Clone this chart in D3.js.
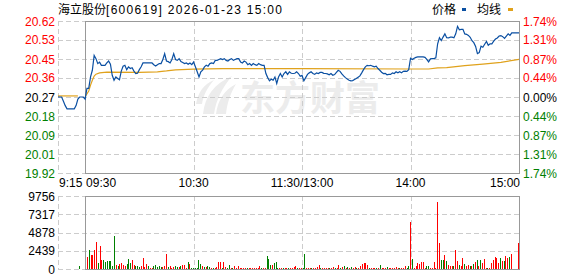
<!DOCTYPE html>
<html>
<head>
<meta charset="utf-8">
<script src="https://cdn.jsdelivr.net/npm/d3@7"></script>
<style>
  body { margin: 0; background: #fff; }
  text { font-family: "Liberation Sans", Arial, sans-serif; font-size: 12px; }
  .cjk { font-family: "Noto Sans CJK SC", sans-serif; }
</style>
</head>
<body>
<svg id="chart" width="578" height="276"></svg>
<script>
const prevClose = 20.27;
const maxPct = 1.74;
const priceLabels = ['20.62', '20.53', '20.45', '20.36', '20.27', '20.18', '20.09', '20.01', '19.92'];
const pctLevels = [1.74, 1.31, 0.87, 0.44, 0, -0.44, -0.87, -1.31, -1.74];
const pctLabels = ['1.74%', '1.31%', '0.87%', '0.44%', '0.00%', '0.44%', '0.87%', '1.31%', '1.74%'];
const timeLabels = ['9:15', '09:30', '10:30', '11:30/13:00', '14:00', '15:00'];
const timeMinutes = [0, 15, 75, 135, 195, 255];
const volTicks = [0, 2439, 4878, 7317, 9756];

// 9:15 - 9:29 call auction
const prePrices = [20.27, 20.27, 20.27, 20.25, 20.23, 20.215, 20.215, 20.215, 20.215, 20.215,
  20.23, 20.26, 20.27, 20.27, 20.27];
const avgPreMinutes = [0, 11];
const avgPreValues = [20.275, 20.275];

// one price per minute, 09:30 .. 11:30 then 13:01 .. 15:00
const prices = [
  20.26, 20.31, 20.31, 20.363, 20.394, 20.463, 20.448, 20.425, 20.432, 20.417,
  20.417, 20.417, 20.428, 20.437, 20.422, 20.371, 20.348, 20.363, 20.356, 20.35,
  20.39, 20.413, 20.417, 20.397, 20.41, 20.402, 20.406, 20.39, 20.379, 20.38,
  20.397, 20.41, 20.428, 20.428, 20.428, 20.428, 20.428, 20.428, 20.42, 20.414,
  20.42, 20.425, 20.425, 20.444, 20.471, 20.437, 20.434, 20.428, 20.444, 20.471,
  20.444, 20.44, 20.448, 20.434, 20.43, 20.425, 20.428, 20.422, 20.428, 20.42,
  20.432, 20.41, 20.387, 20.363, 20.387, 20.395, 20.41, 20.417, 20.413, 20.425,
  20.428, 20.425, 20.44, 20.44, 20.444, 20.448, 20.444, 20.448, 20.44, 20.437,
  20.444, 20.448, 20.44, 20.444, 20.448, 20.448, 20.432, 20.428, 20.437, 20.432,
  20.42, 20.425, 20.417, 20.425, 20.42, 20.417, 20.425, 20.42, 20.417, 20.417,
  20.379, 20.36, 20.345, 20.353, 20.348, 20.363, 20.333, 20.363, 20.379, 20.363,
  20.379, 20.387, 20.375, 20.387, 20.38, 20.379, 20.38, 20.387, 20.379, 20.366,
  20.37, 20.345, 20.36, 20.375, 20.382, 20.387, 20.379, 20.375, 20.382, 20.379,
  20.384, 20.384, 20.38, 20.379, 20.377, 20.373, 20.379, 20.371, 20.374, 20.384,
  20.394, 20.389, 20.377, 20.368, 20.36, 20.353, 20.348, 20.345, 20.346, 20.351,
  20.356, 20.362, 20.368, 20.382, 20.397, 20.41, 20.417, 20.415, 20.417, 20.413,
  20.41, 20.413, 20.402, 20.394, 20.385, 20.379, 20.38, 20.373, 20.375, 20.375,
  20.382, 20.379, 20.387, 20.382, 20.387, 20.382, 20.389, 20.39, 20.389, 20.397,
  20.45, 20.444, 20.45, 20.454, 20.456, 20.456, 20.456, 20.456, 20.454, 20.445,
  20.433, 20.447, 20.448, 20.448, 20.452, 20.517, 20.545, 20.532, 20.548, 20.563,
  20.545, 20.544, 20.548, 20.548, 20.545, 20.563, 20.598, 20.582, 20.584, 20.584,
  20.563, 20.561, 20.556, 20.547, 20.531, 20.522, 20.505, 20.471, 20.476, 20.506,
  20.501, 20.515, 20.528, 20.51, 20.517, 20.517, 20.529, 20.539, 20.544, 20.553,
  20.555, 20.55, 20.542, 20.553, 20.563, 20.556, 20.568, 20.568, 20.568, 20.568,
  20.568
];

// average price line, read at its turning points (minutes after 09:30)
const avgMinutes = [0, 2, 3, 4, 5, 6, 8, 12, 30, 40, 45, 50, 60, 76, 120, 180, 190, 195, 200, 210, 220, 230, 240];
const avgValues = [20.271, 20.298, 20.325, 20.348, 20.367, 20.376, 20.382, 20.385, 20.384, 20.387,
  20.391, 20.396, 20.399, 20.402, 20.402, 20.40, 20.40, 20.405, 20.406, 20.416, 20.423, 20.431, 20.445];

const preVolume = 440;
const preVolMinute = 11.5;
const volumes = [
  1550, 2570, 1900, 1900, 2570, 3630, 800, 3100, 1240, 1240,
  970, 1020, 1020, 1020, 440, 4430, 580, 350, 660, 800,
  580, 440, 660, 1330, 800, 1240, 580, 440, 440, 270,
  440, 1460, 270, 710, 350, 130, 130, 350, 580, 270,
  350, 270, 270, 350, 2040, 270, 350, 130, 270, 440,
  270, 270, 350, 530, 530, 130, 970, 660, 90, 90,
  130, 90, 1240, 660, 440, 270, 270, 350, 270, 130,
  130, 130, 270, 890, 970, 130, 890, 220, 130, 530,
  90, 130, 350, 90, 440, 90, 90, 90, 130, 90,
  90, 90, 130, 90, 90, 90, 440, 90, 130, 90,
  1680, 1330, 530, 530, 800, 970, 90, 90, 90, 90,
  130, 90, 90, 90, 130, 270, 350, 90, 90, 90,
  130, 2040, 90, 90, 90, 90, 90, 130, 270, 580,
  90, 90, 90, 90, 90, 90, 130, 270, 90, 90,
  580, 90, 270, 440, 90, 270, 90, 270, 90, 270,
  90, 90, 440, 660, 840, 800, 530, 90, 90, 90,
  90, 90, 90, 580, 90, 90, 130, 270, 90, 90,
  90, 90, 270, 90, 90, 90, 130, 440, 90, 350,
  6290, 1370, 130, 440, 800, 660, 890, 970, 90, 440,
  440, 90, 130, 890, 90, 8950, 3540, 1240, 1240, 1900,
  1020, 580, 350, 350, 440, 2570, 1020, 580, 350, 1420,
  710, 440, 580, 440, 440, 620, 890, 1150, 440, 1150,
  800, 1330, 90, 90, 90, 800, 1150, 1640, 1420, 800,
  1510, 1020, 1020, 1680, 1460, 1590, 2040, 0, 0, 0,
  3540
];
// r = up minute, g = down minute
const volDir = [
  'rgrrrrgrrg', 'ggggggrgrr', 'rrgggrrggg', 'rrrrgrrggg', 'ggrrrgrrrg',
  'grgrrrgrgg', 'ggggrgrggr', 'grrrrgrrgg', 'rgrrrrrrrg', 'rrrrrrrgrr',
  'gggrgggrrg', 'rrgrrrrgrr', 'ggrrrgrrrr', 'grrrrgrrgr', 'rgrgrgrgrr',
  'grrrrrrgrr', 'rgrgrrrgrr', 'rrrrgrrrgg', 'rgrrrrrrrg', 'grrrrrrggr',
  'grrrgrrgrr', 'grrgrgrgrg', 'rrrgrrrrrr', 'grgrrgrrrr', 'r'
].join('');

const upColor = '#ff0000';
const downColor = '#008000';
const gridColor = '#cccccc';
const frameColor = '#999999';
const priceColor = '#0a4fa2';
const avgColor = '#e0a21c';

const svg = d3.select('#chart');
const left = 58;
const right = 519;
const mainTop = 21;
const mainBottom = 173;
const volTop = 196;
const volBottom = 269;

const xScale = d3.scaleLinear().domain([0, 255]).range([left, right]);
const yScale = d3.scaleLinear()
  .domain([prevClose * (1 - maxPct / 100), prevClose * (1 + maxPct / 100)])
  .range([mainBottom, mainTop]);
const yVol = d3.scaleLinear().domain([0, 9756]).range([volBottom, volTop]);
const volX = d3.scaleLinear().domain([0, 240]).range([87, 518]);
const frameLeft = xScale(15);

const crisp = v => Math.round(v) + 0.5;

// watermark
const wm = svg.append('g').attr('fill', '#ececec');
wm.append('path').attr('d', 'M203,114 C205,96 214,84 232,76 C222,88 216,100 214,114 Z');
wm.append('path').attr('d', 'M216,114 C218,100 224,90 236,84 C230,94 227,104 226,114 Z');
wm.append('path').attr('d', 'M196,104 C198,92 204,84 214,80 C207,88 203,96 202,104 Z');
wm.append('text')
  .attr('class', 'cjk')
  .attr('x', 240)
  .attr('y', 111)
  .style('font-size', '35px')
  .style('font-weight', 'bold')
  .text('东方财富');

// grids
const grid = svg.append('g')
  .attr('stroke', gridColor)
  .attr('stroke-dasharray', '5,3')
  .attr('shape-rendering', 'crispEdges');
pctLevels.forEach((p) => {
  const y = crisp(yScale(prevClose * (1 + p / 100)));
  grid.append('line').attr('x1', left).attr('x2', right).attr('y1', y).attr('y2', y);
});
volTicks.forEach((v) => {
  const y = crisp(yVol(v));
  grid.append('line').attr('x1', left).attr('x2', right).attr('y1', y).attr('y2', y);
});
[0, 75, 135, 195].forEach((m) => {
  const x = crisp(xScale(m));
  grid.append('line').attr('x1', x).attr('x2', x).attr('y1', mainTop).attr('y2', mainBottom);
  grid.append('line').attr('x1', x).attr('x2', x).attr('y1', volTop).attr('y2', volBottom);
});

// frames
[[mainTop, mainBottom], [volTop, volBottom]].forEach(([t, b]) => {
  svg.append('rect')
    .attr('x', crisp(frameLeft))
    .attr('y', crisp(t))
    .attr('width', Math.round(xScale(255)) - Math.round(frameLeft))
    .attr('height', Math.round(b) - Math.round(t))
    .attr('fill', 'none')
    .attr('stroke', frameColor)
    .attr('shape-rendering', 'crispEdges');
});

// volume bars
const barData = volumes
  .map((v, i) => ({ v, x: volX(i), dir: volDir[i] }))
  .concat([{ v: preVolume, x: xScale(preVolMinute), dir: 'g' }])
  .filter(d => d.v > 0);
svg.append('g')
  .attr('shape-rendering', 'crispEdges')
  .selectAll('rect')
  .data(barData)
  .enter()
  .append('rect')
  .attr('x', d => Math.round(d.x))
  .attr('width', 1)
  .attr('y', d => Math.round(yVol(d.v)))
  .attr('height', d => volBottom - Math.round(yVol(d.v)))
  .attr('fill', d => (d.dir === 'g' ? downColor : upColor));

// price & average lines
const pricePoints = prePrices.map((p, i) => [i, p]).concat(prices.map((p, i) => [15 + i, p]));
const line = d3.line().x(d => xScale(d[0])).y(d => yScale(d[1]));
svg.append('path')
  .attr('d', line(avgPreMinutes.map((m, i) => [m, avgPreValues[i]])))
  .attr('fill', 'none')
  .attr('stroke', avgColor)
  .attr('stroke-width', 1.2);
svg.append('path')
  .attr('d', line(avgMinutes.map((m, i) => [15 + m, avgValues[i]])))
  .attr('fill', 'none')
  .attr('stroke', avgColor)
  .attr('stroke-width', 1.2);
svg.append('path')
  .attr('d', line(pricePoints))
  .attr('fill', 'none')
  .attr('stroke', priceColor)
  .attr('stroke-width', 1.2);

// axis labels
const labelColor = p => (p > 0 ? upColor : (p < 0 ? downColor : '#000'));
pctLevels.forEach((p, i) => {
  const y = yScale(prevClose * (1 + p / 100)) + 4.5;
  svg.append('text')
    .attr('x', 55).attr('y', y)
    .attr('text-anchor', 'end')
    .attr('fill', labelColor(p))
    .text(priceLabels[i]);
  svg.append('text')
    .attr('x', 523).attr('y', y)
    .attr('fill', labelColor(p))
    .text(pctLabels[i]);
});
volTicks.forEach((v) => {
  svg.append('text')
    .attr('x', 55).attr('y', yVol(v) + 4.5)
    .attr('text-anchor', 'end')
    .attr('fill', '#000')
    .text(v);
});
timeLabels.forEach((t, i) => {
  let anchor = 'middle';
  let x = xScale(timeMinutes[i]);
  if (i === 0 || i === 1) { anchor = 'start'; x += 1; }
  if (i === timeLabels.length - 1) { anchor = 'end'; x += 1; }
  svg.append('text')
    .attr('x', x).attr('y', 187)
    .attr('text-anchor', anchor)
    .attr('fill', '#000')
    .text(t);
});

// title & legend
const title = svg.append('text').attr('x', 58).attr('y', 14).attr('fill', '#000');
title.append('tspan').attr('class', 'cjk').text('海立股份');
title.append('tspan').style('letter-spacing', '1.3px').text('[600619] 2026-01-23 15:00');

svg.append('text').attr('class', 'cjk').attr('x', 432).attr('y', 14).attr('fill', '#000').text('价格');
svg.append('rect').attr('x', 462).attr('y', 8).attr('width', 4).attr('height', 3).attr('fill', priceColor);
svg.append('text').attr('class', 'cjk').attr('x', 477).attr('y', 14).attr('fill', '#000').text('均线');
svg.append('rect').attr('x', 508).attr('y', 8).attr('width', 5).attr('height', 3).attr('fill', avgColor);
</script>
</body>
</html>
